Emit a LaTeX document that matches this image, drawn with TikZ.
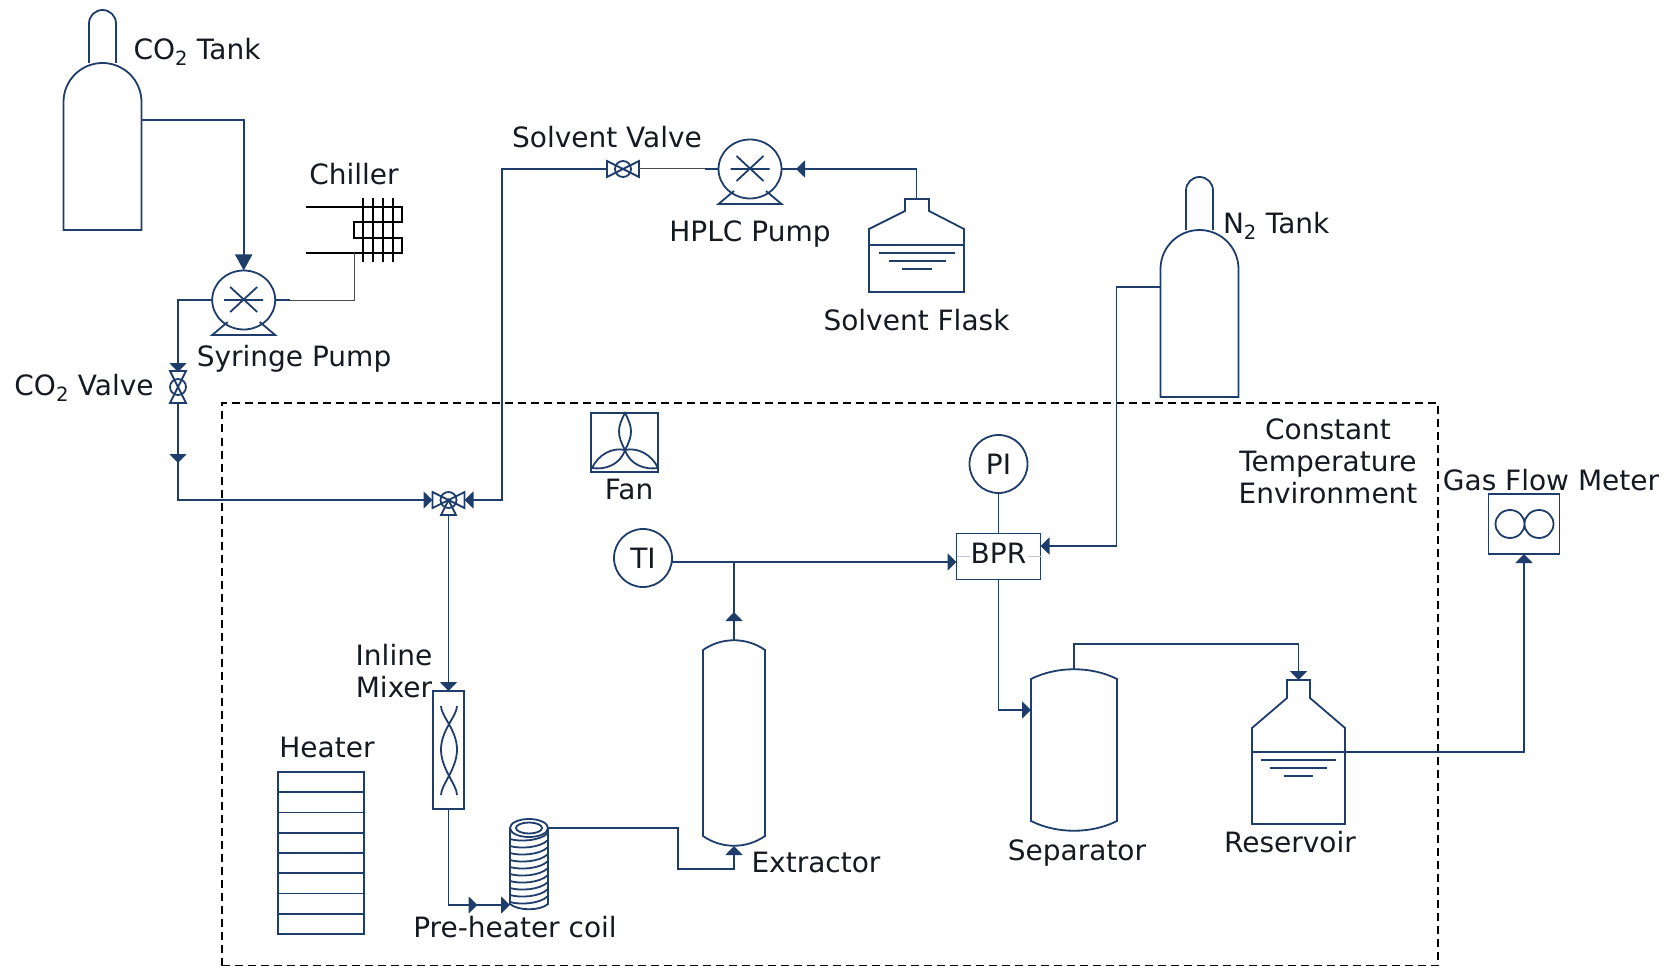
\documentclass[tikz,border=0pt]{standalone}
\usepackage{fontspec}
\setmainfont{DejaVu Sans}
\usepackage{tikz}
\usetikzlibrary{arrows.meta}
\usetikzlibrary{positioning}
\usetikzlibrary{shapes.geometric}
\usetikzlibrary{decorations.markings}

\definecolor{linecol}{HTML}{1F3D6B}
\definecolor{textcol}{HTML}{151A22}

\tikzset{
    hidden/.style={inner sep=0pt, outer sep=0pt},
    part/.style={draw=linecol, line width=1.8pt, fill=none},
    pipe/.style={draw=linecol, line width=1.8pt},
    thinpipe/.style={draw=black!70, line width=1pt},
    coolant/.style={draw=black, line width=1.8pt},
    lbl/.style={hidden, text=textcol, align=center, font=\fontsize{28}{32}\selectfont},
    instrument/.style={part, lbl, circle, minimum size=58pt},
    midtip/.style={postaction={decorate}, decoration={markings, mark=at position #1 with {\arrow{>}}}},
    gastank/.pic={
        \node[hidden, minimum width=78pt, minimum height=220pt] (-box) at (0,0) {};
        \draw[part] (-39,110) -- (39,110) -- (39,-18) arc[start angle=360, end angle=180, radius=39] -- cycle;
        \draw[part] (-13.5,-57) -- (-13.5,-96.5) arc[start angle=180, end angle=360, radius=13.5] -- (13.5,-57);
    },
    pumpunit/.pic={
        \node[part, hidden, ellipse, minimum width=63pt, minimum height=59pt] (-body) at (0,0) {};
        \draw[part] (-16,22) -- (-31.5,35) -- (31.5,35) -- (16,22);
        \draw[part] (-19.5,0) -- (19.5,0) (-13.5,-13) -- (13.5,12) (13.5,-13) -- (-13.5,12);
    },
    valvebody/.pic={
        \draw[part] (0,0) -- (-16,-8) -- (-16,8) -- cycle (0,0) -- (16,-8) -- (16,8) -- cycle;
        \draw[part] (0,0) circle[radius=8];
    },
    pics/vessel/.style 2 args={code={
        \node[hidden, minimum width={2*#1}, minimum height={2*#2}] (-box) at (0,0) {};
        \draw[part] (-#1,-#2+10) .. controls (-0.4*#1,-#2-3) and (0.4*#1,-#2-3) .. (#1,-#2+10)
            -- (#1,#2-10) .. controls (0.4*#1,#2+3) and (-0.4*#1,#2+3) .. (-#1,#2-10) -- cycle;
    }}
}

\begin{document}
\begin{tikzpicture}[x=1pt, y=-1pt, >={Triangle[length=9pt,width=17pt]}]

    \useasboundingbox (0,0) rectangle (1675,968);

    % Enclosure

    \node[draw=black, line width=1.4pt, dash pattern=on 8pt off 5pt, hidden, minimum width=1216pt, minimum height=562.5pt] (chamber) at (830,684.25) {};

    % Nodes

    \pic (co2) at (102.5,120) {gastank};
    \pic (n2) at (1199.5,287) {gastank};
    \pic (syringe) at (243.7,300) {pumpunit};
    \pic (hplc) at (750,169) {pumpunit};

    \node[hidden, minimum width=96pt, minimum height=64pt] (chiller) at (354,230) {};
    \node[hidden, minimum width=17pt, minimum height=30pt] (co2valve) at (178,387) {};
    \node[hidden, minimum width=32pt, minimum height=16pt] (solvalve) at (623,169) {};
    \node[hidden, minimum width=32pt, minimum height=30pt] (mixvalve) at (448.5,500) {};
    \node[hidden, minimum width=95pt, minimum height=93pt] (flask) at (916.5,245.5) {};
    \node[part, hidden, minimum width=67pt, minimum height=59pt] (fan) at (624.5,442.5) {};
    \node[instrument] (ti) at (643,558) {TI};
    \node[instrument] (pi) at (998.5,464) {PI};
    \node[part, lbl, text depth=6pt, minimum width=84pt, minimum height=46pt] (bpr) at (998.5,556.5) {BPR};
    \node[part, hidden, minimum width=31pt, minimum height=118pt] (mixer) at (448.5,750) {};
    \node[hidden, minimum width=38pt, minimum height=90pt] (coil) at (529,864) {};
    \node[part, hidden, minimum width=86pt, minimum height=162pt] (heater) at (321,853) {};
    \pic (extractor) at (734,743) {vessel={31}{103}};
    \pic (separator) at (1074,750) {vessel={43}{81}};
    \node[hidden, minimum width=93pt, minimum height=144pt] (reservoir) at (1298.5,752) {};
    \node[part, hidden, minimum width=71pt, minimum height=60pt] (meter) at (1524,524) {};

    % Part details

    \pic[rotate=90] at (co2valve) {valvebody};
    \pic at (solvalve) {valvebody};
    \pic at (mixvalve) {valvebody};
    \draw[part] (mixvalve.center) -- ++(-7.5,15) -- ++(15,0) -- cycle;

    \draw[coolant] (306,207) -- (402,207) -- (402,222) -- (354,222) -- (354,238) -- (402,238) -- (402,253) -- (306,253);
    \foreach \cx in {363,373,383,393}
        \draw[coolant] (\cx,198) -- (\cx,262);

    \draw[part] (905,199) -- (929,199) -- (929,211) -- (964,229) -- (964,292) -- (869,292) -- (869,229) -- (905,211) -- cycle;
    \draw[part] (869,245) -- (964,245) (879,253) -- (955,253) (889,261) -- (946,261) (902,269) -- (932,269);

    \draw[part] (1287,680) -- (1310,680) -- (1310,698) -- (1345,728) -- (1345,824) -- (1252,824) -- (1252,728) -- (1287,698) -- cycle;
    \draw[part] (1252,752) -- (1345,752) (1261,760) -- (1336,760) (1270,768) -- (1327,768) (1284,776) -- (1313,776);

    \draw[part] (625,450) .. controls (617,435) and (617,428) .. (625,413) .. controls (633,428) and (633,435) .. (625,450);
    \draw[part] (625,450) .. controls (612,447) and (598,455) .. (592,468) .. controls (605,470) and (620,465) .. (625,450);
    \draw[part] (625,450) .. controls (638,447) and (652,455) .. (658,468) .. controls (645,470) and (630,465) .. (625,450);

    \draw[part] (441,706) .. controls (441,716) and (457,730) .. (457,749.5) .. controls (457,769) and (441,785) .. (441,795);
    \draw[part] (457,706) .. controls (457,716) and (441,730) .. (441,749.5) .. controls (441,769) and (457,785) .. (457,795);

    \draw[part] (529,828) ellipse[x radius=19, y radius=9] (529,828) ellipse[x radius=13, y radius=5.5];
    \draw[part] (510,828) -- (510,904) .. controls (518,911) and (540,911) .. (548,904) -- (548,828);
    \foreach \wy in {836,843,...,899}
        \draw[part] (510,\wy+3) .. controls (520,\wy+6) and (540,\wy+5) .. (548,\wy-3);

    \foreach \row in {1,...,7}
        \draw[part] (278,{772+20.25*\row}) -- (364,{772+20.25*\row});

    \draw[part] (1510,524) ellipse[x radius=14.5, y radius=14] (1539,524) ellipse[x radius=14.5, y radius=14];

    \draw[draw=linecol!30, line width=1pt] (bpr.west) -- ++(13,0) (bpr.east) -- ++(-13,0);

    % Edges

    \draw[pipe, -{Triangle[length=16pt,width=17pt]}] (co2-box.east) -| (syringe-body.north);
    \draw[pipe, ->] (syringe-body.west) -| (co2valve.north);
    \draw[pipe] (syringe-body.east) -- ++(15,0) coordinate (coolstart);
    \draw[thinpipe] (coolstart) -| (chiller.center |- 0,253);
    \draw[pipe, midtip=61pt, ->] (co2valve.south) |- (mixvalve.west);

    \draw[pipe] (hplc-body.west) -- ++(-14,0) coordinate (solstart);
    \draw[thinpipe] (solstart) -- (solvalve.east);
    \draw[pipe, midtip=150.5pt] (flask.north) |- (hplc-body.east);
    \draw[pipe, ->] (solvalve.west) -- ++(-105,0) |- (mixvalve.east);

    \draw[pipe, ->] (mixvalve.south) -- (mixer.north);
    \draw[pipe, midtip=125pt, ->] (mixer.south) |- ([yshift=4pt]coil.south west);
    \draw[pipe, ->] ([yshift=36pt]coil.east) -- ++(130,0) |- ++(56,41) -- (extractor-box.south);

    \coordinate (bprin) at ([yshift=-5.5pt]bpr.west);
    \draw[pipe, ->] (ti.east |- bprin) -- (bprin);
    \draw[pipe, midtip=28pt] (extractor-box.north) -- (extractor-box.north |- bprin);
    \draw[pipe] (pi.south) -- (bpr.north);
    \draw[pipe, ->] (n2-box.west) -- ++(-44,0) |- ([yshift=10.5pt]bpr.east);
    \draw[pipe, ->] (bpr.south) |- ([yshift=40pt]separator-box.west);
    \draw[pipe, ->] (separator-box.north) -- ++(0,-25) -| (reservoir.north);
    \draw[pipe, ->] (reservoir.east) -| (meter.south);

    % Labels

    \node[lbl, anchor=west] (co2lbl) at (133.5,52) {CO\textsubscript{2} Tank};
    \node[lbl, above=13.5pt of chiller] (chillerlbl) {Chiller};
    \node[lbl] (syringelbl) at (294,359) {Syringe Pump};
    \node[lbl] (co2valvelbl) at (84,388) {CO\textsubscript{2} Valve};
    \node[lbl] (solvalvelbl) at (607,137) {Solvent Valve};
    \node[lbl, below=22pt of hplc-body] (hplclbl) {HPLC Pump};
    \node[lbl, below=17pt of flask] (flasklbl) {Solvent Flask};
    \node[lbl, anchor=west] (n2lbl) at (1223,226) {N\textsubscript{2} Tank};
    \node[lbl] (envlbl) at (1328,461) {Constant\\Temperature\\Environment};
    \node[lbl] (meterlbl) at (1551,480) {Gas Flow Meter};
    \node[lbl] (fanlbl) at (629,489) {Fan};
    \node[lbl] (mixerlbl) at (394,671) {Inline\\Mixer};
    \node[lbl] (heaterlbl) at (327,747) {Heater};
    \node[lbl] (extractorlbl) at (816,862) {Extractor};
    \node[lbl] (coillbl) at (515,927) {Pre-heater coil};
    \node[lbl] (separatorlbl) at (1077,853) {Separator};
    \node[lbl] (reservoirlbl) at (1290,842) {Reservoir};

\end{tikzpicture}
\end{document}
